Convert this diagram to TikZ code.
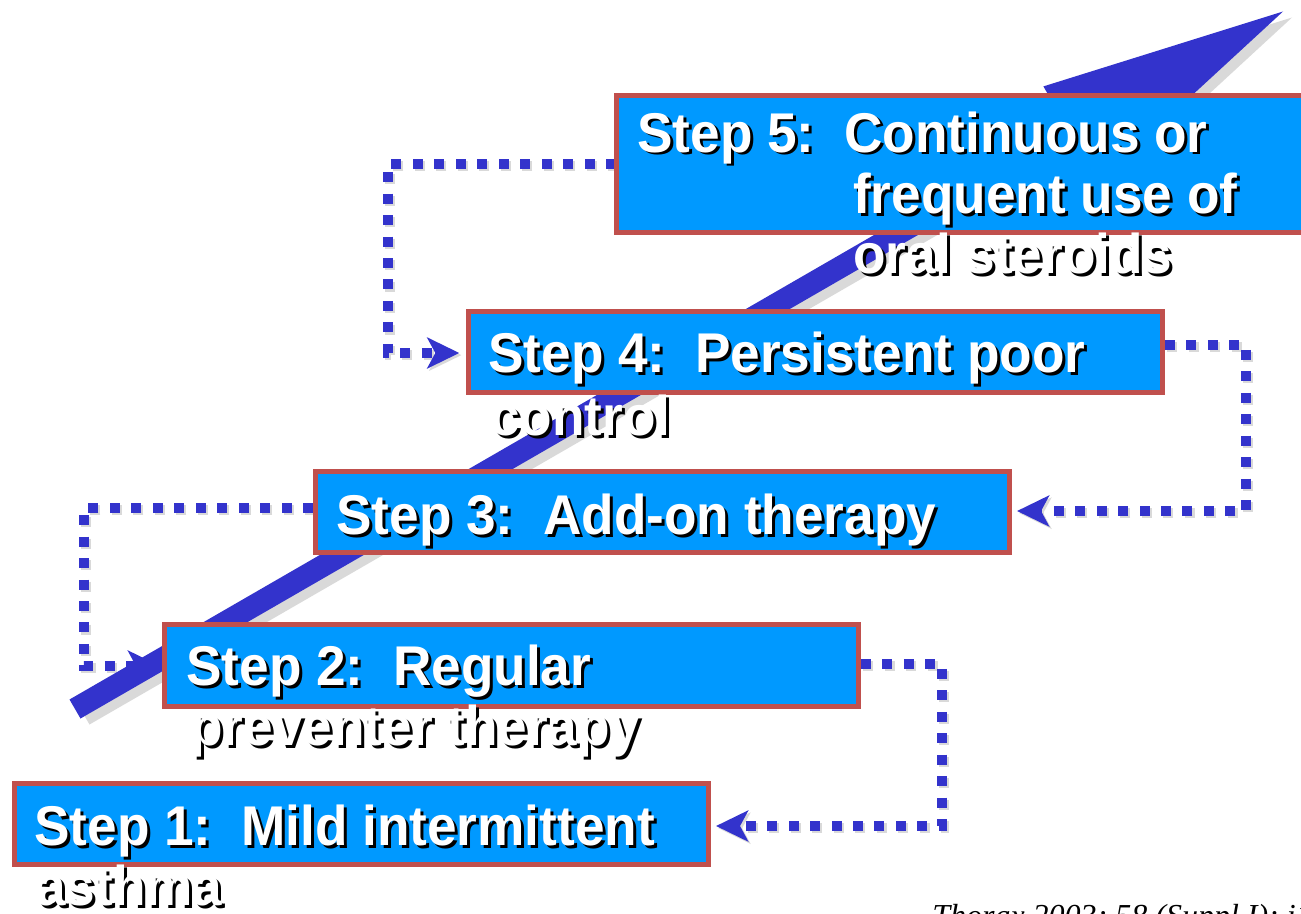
\documentclass[tikz,border=0pt]{standalone}
\usepackage{fontspec}
\setmainfont{Liberation Sans}
\newfontfamily\stepfont[FakeStretch=0.95]{Liberation Sans Bold}
\newfontfamily\reffont{Liberation Serif}
\usetikzlibrary{arrows.meta}
\definecolor{boxblue}{HTML}{0099FF}
\definecolor{boxred}{HTML}{C0504D}
\definecolor{bandblue}{HTML}{3333CC}
\definecolor{shadowgray}{HTML}{D9D9D9}
\tikzset{
  stepbox/.style={draw=boxred, line width=3.75pt, fill=boxblue, rectangle, inner sep=0pt,
    minimum width=520.5pt, minimum height=61pt},
  steptext/.style={anchor=base west, inner sep=0pt, text=white, font=\stepfont\fontsize{42pt}{46pt}\selectfont},
  conn/.style={draw=bandblue, line width=7.5pt, dash pattern=on 7.5pt off 8.6pt, line join=miter,
    -{Stealth[length=24pt, width=23pt, inset=6pt]},
    preaction={draw=shadowgray, line width=7.5pt, dash pattern=on 7.5pt off 8.6pt,
      -{Stealth[length=24pt, width=23pt, inset=6pt]},
      transform canvas={xshift=1.6pt, yshift=-1.6pt}}},
}
\newcommand\shtext[4]{%
  \node[steptext, text=black] at (#2+3,#3+3) {#4};
  \node[steptext] (#1) at (#2,#3) {#4};}
\begin{document}
\begin{tikzpicture}[x=0.75pt, y=-0.75pt]
\useasboundingbox (0,0) rectangle (1301,913);
\clip (0,0) rectangle (1301,913);

\coordinate (c1) at (388,164);
\coordinate (c2) at (1246,345);
\coordinate (c3) at (84,508);
\coordinate (c4) at (942,664);

% connectors (behind band and boxes)
\path (616,164) coordinate (b5w) (466,353) coordinate (b4w);
\draw[conn] (b5w) -- (c1) |- ([xshift=-5pt]b4w);
\draw[conn] (1165,345) -- (c2) |- (1017,511);
\draw[conn] (313,508) -- (c3) |- (160,666);
\draw[conn] (861,664) -- (c4) |- (716,826);

% rising band with arrowhead
\fill[shadowgray, shift={(9,6)}] (69.5,699.5) -- (1065.4,124.5) -- (1043.4,86.4) -- (1283,11.5)
  -- (1098.4,181.6) -- (1076.4,143.5) -- (80.5,718.5) -- cycle;
\fill[bandblue] (69.5,699.5) -- (1065.4,124.5) -- (1043.4,86.4) -- (1283,11.5)
  -- (1098.4,181.6) -- (1076.4,143.5) -- (80.5,718.5) -- cycle;

% boxes
\node[stepbox, minimum height=102.75pt] (b5) at (963.5,164) {};
\node[stepbox] (b4) at (815.5,352) {};
\node[stepbox] (b3) at (662,512) {};
\node[stepbox] (b2) at (511.5,665.5) {};
\node[stepbox] (b1) at (361.5,824) {};

% texts
\shtext{t5a}{637}{152}{Step 5:\ \ Continuous or}
\shtext{t5b}{853}{213}{frequent use of}
\shtext{t5c}{853}{273}{oral steroids}
\shtext{t4a}{488}{372}{Step 4:\ \ Persistent poor}
\shtext{t4b}{490}{435}{control}
\shtext{t3a}{336}{534}{Step 3:\ \ Add-on therapy}
\shtext{t2a}{186}{685}{Step 2:\ \ Regular}
\shtext{t2b}{190}{745}{preventer therapy}
\shtext{t1a}{34}{845}{Step 1:\ \ Mild intermittent}
\shtext{t1b}{36}{905}{asthma}

% reference
\node[anchor=base west, inner sep=0pt, font=\reffont\itshape\fontsize{24pt}{27pt}\selectfont] (ref) at (932,926) {Thorax 2003; 58 (Suppl I): i1\textendash i94};
\end{tikzpicture}
\end{document}
